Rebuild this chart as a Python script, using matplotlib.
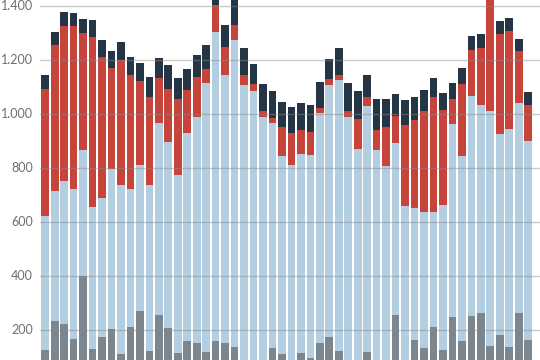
import matplotlib.pyplot as plt
import numpy as np

# Cumulative tops of each segment (bottom to top)
gray_top = [127, 234, 224, 168, 400, 131, 175, 205, 112, 212, 271, 123, 257, 209, 116,
            160, 153, 120, 160, 153, 139, 80, 80, 80, 134, 113, 80, 116, 99, 153,
            176, 123, 80, 80, 120, 80, 80, 257, 80, 164, 134, 212, 127, 249, 160,
            253, 264, 142, 183, 138, 264, 164]
blue_top = [624, 717, 752, 724, 868, 658, 691, 797, 739, 724, 813, 737, 968, 897, 775,
            931, 990, 1116, 1305, 1146, 1275, 1109, 1086, 990, 968, 847, 812, 853, 849, 1006,
            1109, 1127, 990, 871, 1031, 868, 809, 894, 662, 653, 638, 638, 664, 964, 846,
            1068, 1034, 1012, 927, 946, 1042, 901]
red_top = [1095, 1258, 1328, 1325, 1302, 1286, 1212, 1171, 1199, 1147, 1124, 1065, 1136, 1093, 1057,
           1090, 1138, 1168, 1405, 1249, 1332, 1146, 1111, 1013, 985, 954, 932, 943, 933, 1024,
           1131, 1146, 1012, 983, 1064, 942, 953, 994, 960, 979, 1012, 1064, 1016, 1057, 1112,
           1238, 1246, 1440, 1297, 1309, 1234, 1034]
dark_top = [1145, 1305, 1379, 1375, 1353, 1349, 1274, 1234, 1268, 1212, 1190, 1138, 1209, 1183, 1134,
            1168, 1220, 1257, 1440, 1331, 1440, 1246, 1186, 1112, 1087, 1046, 1027, 1042, 1035, 1120,
            1205, 1246, 1116, 1086, 1146, 1057, 1057, 1075, 1053, 1064, 1090, 1134, 1079, 1116, 1172,
            1290, 1297, 1480, 1346, 1357, 1279, 1083]

ticks = [200, 400, 600, 800, 1000, 1200, 1400]
tick_labels = ["200", "400", "600", "800", "1.000", "1.200", "1.400"]

gray = np.array(gray_top)
blue = np.array(blue_top)
red = np.array(red_top)
dark = np.array(dark_top)
x = np.arange(len(gray))

fig = plt.figure(figsize=(5.4, 3.6), dpi=100)
ax = fig.add_axes([40 / 540, 0, 500 / 540, 1])

w = 0.81
ax.bar(x, gray, width=w, color="#7b868f", zorder=2)
ax.bar(x, blue - gray, bottom=gray, width=w, color="#b3cee0", zorder=2)
ax.bar(x, red - blue, bottom=blue, width=w, color="#c6443a", zorder=2)
ax.bar(x, dark - red, bottom=red, width=w, color="#243645", zorder=2)

ax.set_xlim(-0.55, 51.5 + 0.75)
ax.set_ylim(90, 1423)
ax.set_yticks(ticks)
ax.set_yticklabels(tick_labels)
ax.set_xticks([])

for t in ticks:
    ax.axhline(t, color="#8a8a8a", alpha=0.45, lw=1, zorder=3)

ax.tick_params(axis="y", length=0, pad=5, labelsize=9, labelcolor="#6b6f73")
for lab in ax.get_yticklabels():
    lab.set_family("Lato")
    lab.set_va("center")
for s in ax.spines.values():
    s.set_visible(False)

fig.savefig("out.png", dpi=100)
